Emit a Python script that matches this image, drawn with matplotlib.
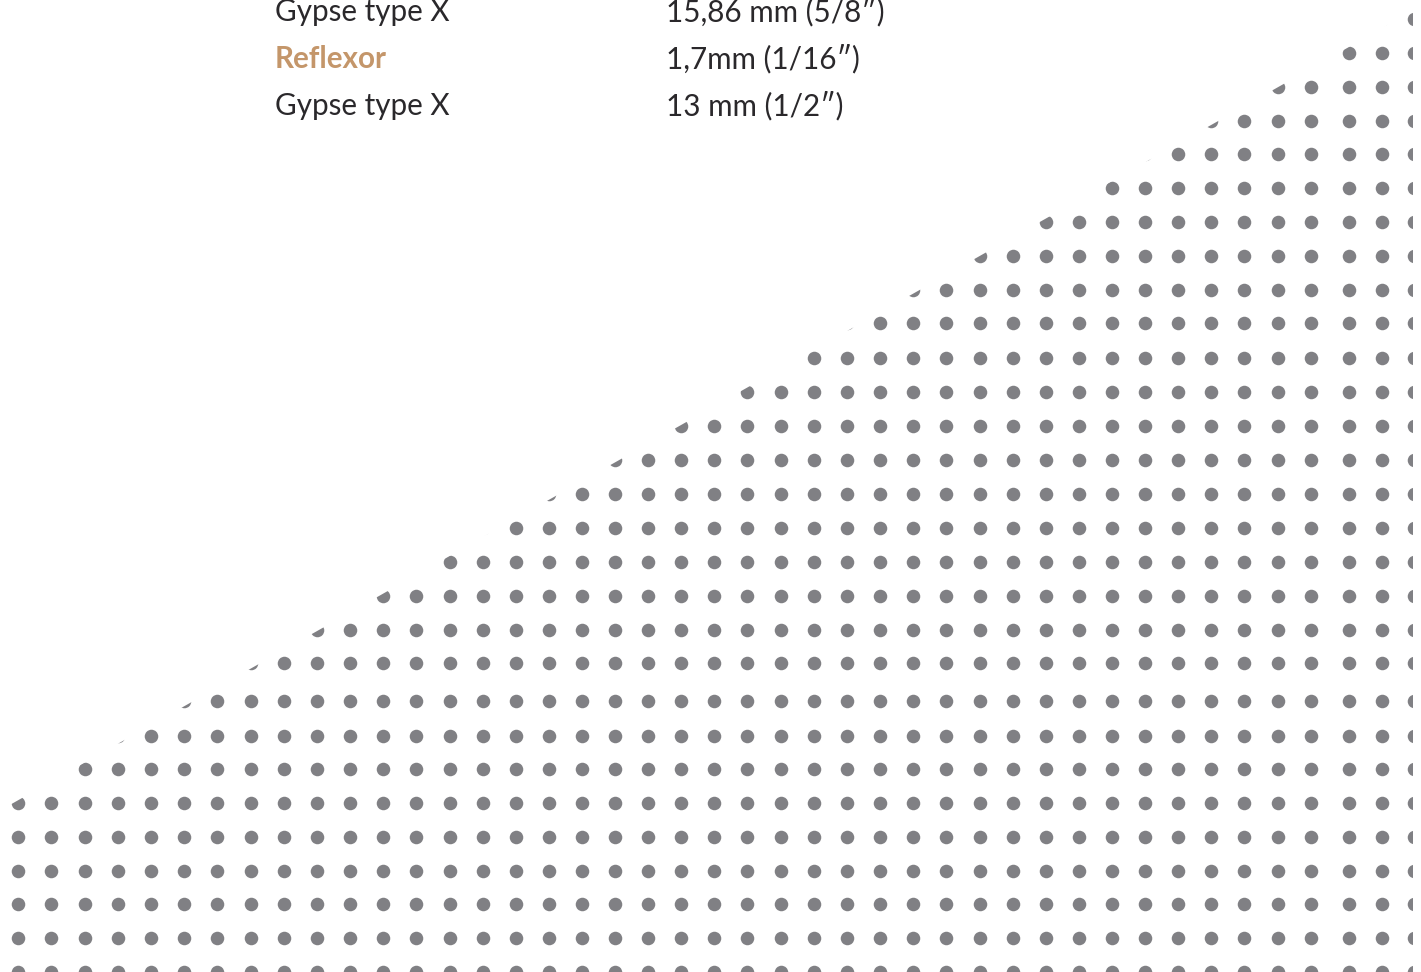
import numpy as np
import matplotlib
matplotlib.use("Agg")
import matplotlib.pyplot as plt
from matplotlib.patches import Polygon

# dot grid (pixel centres)
col_x = [18, 51, 85, 118, 151, 184, 217, 251, 284, 317, 350, 383, 416, 450,
         483, 516, 549, 582, 615, 648, 681, 714, 747, 781, 814, 847, 880, 913,
         946, 980, 1013, 1046, 1079, 1112, 1145, 1178, 1211, 1244, 1278, 1311,
         1349, 1382, 1414]
row_y = [19, 53, 87, 121, 154, 188, 222, 256, 290, 323, 358, 392, 426, 460,
         494, 528, 562, 596, 630, 663, 701, 736, 769, 803, 837, 871, 904, 938,
         972]

# diagonal cut: y = cut_a + cut_b * x, dots kept below it
cut_a = 810.5
cut_b = -0.566
right_edge = 1413

left_labels = ["Gypse type X", "Reflexor", "Gypse type X"]
right_labels = ["15,86 mm (5/8\u2033)", "1,7mm (1/16\u2033)", "13 mm (1/2\u2033)"]
label_base = [21, 68, 115]
highlight = [False, True, False]

W, H = 1421, 972
fig = plt.figure(figsize=(W / 100, H / 100), dpi=100)
ax = fig.add_axes([0, 0, 1, 1])
ax.set_xlim(0, W)
ax.set_ylim(H, 0)
ax.axis("off")

gx, gy = np.meshgrid(col_x, row_y)
dots = ax.scatter(gx.ravel(), gy.ravel(), s=95, c="#808084", linewidths=0)

clip = Polygon([(0, cut_a), (right_edge, cut_a + cut_b * right_edge),
                (right_edge, H), (0, H)],
               closed=True, transform=ax.transData)
dots.set_clip_path(clip)

fams = ["Lato", "DejaVu Sans"]
fs = 21.3
for lab, val, yb, hi in zip(left_labels, right_labels, label_base, highlight):
    if hi:
        ax.text(275, yb, lab, fontsize=fs, fontweight="bold", color="#c4966a",
                family=fams, va="baseline", ha="left")
    else:
        ax.text(275, yb, lab, fontsize=fs, color="#2a282b",
                family=fams, va="baseline", ha="left")
    ax.text(666, yb, val, fontsize=fs, color="#2a282b",
            family=fams, va="baseline", ha="left")

plt.savefig("out.png", dpi=100)
